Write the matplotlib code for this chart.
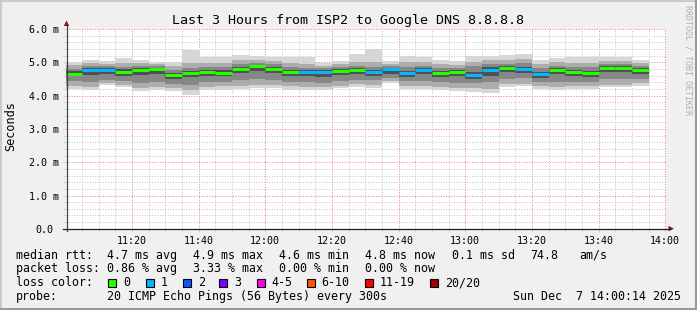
import matplotlib
matplotlib.use('Agg')
import matplotlib.pyplot as plt
import matplotlib.transforms as mtransforms
import numpy as np
from matplotlib.lines import Line2D
from matplotlib.patches import Polygon, Rectangle

W, H = 697, 310

# one rrd step = 5 minutes, x in minutes after 11:00
step_minutes = 5
x_labels = ['11:20', '11:40', '12:00', '12:20', '12:40', '13:00', '13:20', '13:40', '14:00']
y_labels = ['0.0', '1.0 m', '2.0 m', '3.0 m', '4.0 m', '5.0 m', '6.0 m']

# rtt of the 20 pings per step, in ms (median + smoke quantiles)
rtt_median = [4.66, 4.76, 4.76, 4.72, 4.78, 4.79, 4.61, 4.67, 4.72, 4.69, 4.81, 4.88,
              4.81, 4.70, 4.70, 4.70, 4.73, 4.76, 4.72, 4.79, 4.67, 4.76, 4.67, 4.70,
              4.61, 4.76, 4.82, 4.79, 4.64, 4.76, 4.70, 4.67, 4.82, 4.82, 4.76]
rtt_min = [4.20, 4.16, 4.31, 4.25, 4.13, 4.18, 4.15, 4.03, 4.16, 4.18, 4.21, 4.22,
           4.23, 4.18, 4.16, 4.16, 4.23, 4.26, 4.23, 4.38, 4.21, 4.20, 4.16, 4.13,
           4.11, 4.08, 4.26, 4.28, 4.20, 4.16, 4.20, 4.20, 4.25, 4.25, 4.30]
rtt_q10 = [4.28, 4.25, 4.38, 4.33, 4.22, 4.27, 4.24, 4.16, 4.26, 4.28, 4.30, 4.32,
           4.32, 4.28, 4.26, 4.25, 4.30, 4.34, 4.32, 4.44, 4.30, 4.29, 4.25, 4.22,
           4.22, 4.20, 4.34, 4.36, 4.28, 4.25, 4.28, 4.28, 4.33, 4.33, 4.37]
rtt_q25 = [4.43, 4.40, 4.48, 4.45, 4.38, 4.42, 4.36, 4.33, 4.40, 4.42, 4.46, 4.50,
           4.48, 4.42, 4.42, 4.38, 4.44, 4.48, 4.46, 4.52, 4.44, 4.45, 4.40, 4.38,
           4.38, 4.40, 4.50, 4.52, 4.42, 4.42, 4.42, 4.42, 4.50, 4.50, 4.50]
rtt_q40 = [4.58, 4.62, 4.64, 4.60, 4.62, 4.65, 4.50, 4.55, 4.60, 4.58, 4.68, 4.74,
           4.68, 4.58, 4.58, 4.56, 4.62, 4.64, 4.60, 4.66, 4.56, 4.64, 4.56, 4.58,
           4.50, 4.60, 4.70, 4.68, 4.54, 4.64, 4.58, 4.56, 4.70, 4.70, 4.65]
rtt_q60 = [4.73, 4.82, 4.82, 4.79, 4.84, 4.83, 4.68, 4.73, 4.78, 4.76, 4.87, 4.93,
           4.87, 4.77, 4.76, 4.76, 4.79, 4.82, 4.78, 4.84, 4.75, 4.82, 4.74, 4.76,
           4.72, 4.86, 4.88, 4.87, 4.72, 4.82, 4.77, 4.75, 4.88, 4.88, 4.82]
rtt_q75 = [4.81, 4.90, 4.88, 4.86, 4.90, 4.88, 4.76, 4.82, 4.86, 4.85, 4.95, 4.99,
           4.94, 4.85, 4.84, 4.83, 4.86, 4.90, 4.87, 4.90, 4.86, 4.90, 4.83, 4.83,
           4.88, 4.96, 4.96, 4.98, 4.84, 4.90, 4.86, 4.85, 4.95, 4.95, 4.90]
rtt_q90 = [4.91, 4.98, 4.95, 4.97, 4.98, 4.95, 4.88, 4.98, 4.98, 4.98, 5.06, 5.08,
           5.04, 4.97, 4.96, 4.90, 4.94, 5.02, 5.02, 4.96, 5.00, 5.00, 4.94, 4.92,
           5.02, 5.06, 5.06, 5.10, 4.96, 5.00, 4.98, 4.98, 5.05, 5.04, 4.98]
rtt_max = [5.01, 5.08, 5.03, 5.13, 5.08, 5.01, 5.01, 5.36, 5.17, 5.15, 5.23, 5.20,
           5.17, 5.17, 5.17, 4.98, 5.03, 5.26, 5.40, 5.03, 5.20, 5.16, 5.08, 5.03,
           5.18, 5.20, 5.23, 5.26, 5.08, 5.13, 5.15, 5.16, 5.16, 5.15, 5.08]
lost_pings = [0, 1, 1, 0, 0, 0, 0, 0, 0, 0, 0, 0,
              0, 0, 1, 1, 0, 0, 1, 1, 1, 1, 0, 0,
              1, 1, 0, 1, 1, 0, 0, 0, 0, 0, 0]

loss_names = ['0', '1', '2', '3', '4-5', '6-10', '11-19', '20/20']
loss_colors = ['#26ff00', '#00b8ff', '#0059ff', '#7e00ff', '#ff00ee', '#ff5500', '#ff0000', '#a10000']


def px(x, y):
    # pixel position (from top left) -> figure fraction
    return x / W, 1 - y / H


plt.rcParams['font.family'] = ['DejaVu Sans Mono']

fig = plt.figure(figsize=(W / 100, H / 100), dpi=100, facecolor='#f0f0f0')

# frame of the rrd image
fig.add_artist(Rectangle((0, 0), 1, 1, transform=fig.transFigure, fill=False,
                         edgecolor='#cbcbcb', lw=2.2))
fig.add_artist(Line2D([1 - 1.5 / W, 1 - 1.5 / W], [0, 1], transform=fig.transFigure, color='#999999', lw=2.2))
fig.add_artist(Line2D([0, 1], [1.5 / H, 1.5 / H], transform=fig.transFigure, color='#999999', lw=2.2))

ax = fig.add_axes([66 / W, (H - 228.8) / H, 600 / W, 199.8 / H])
ax.set_facecolor('white')
t0 = 14 / 60  # graph starts at 11:00:14
ax.set_xlim(t0, 180 + t0)
ax.set_ylim(0, 6)

# smoke
x_start = np.arange(len(rtt_median)) * step_minutes
smoke = [(rtt_min, rtt_max, '#d6d6d6'),
         (rtt_q10, rtt_q90, '#adadad'),
         (rtt_q25, rtt_q75, '#878787'),
         (rtt_q40, rtt_q60, '#505050')]
for lo, hi, c in smoke:
    lo = np.array(lo)
    hi = np.array(hi)
    ax.bar(x_start, hi - lo, bottom=lo, width=step_minutes, align='edge',
           color=c, linewidth=0, antialiased=False, zorder=2)

# median, coloured by packet loss
for xs, m, n in zip(x_start, rtt_median, lost_pings):
    ax.hlines(m, max(xs, t0), xs + step_minutes, color=loss_colors[n], lw=2.2, zorder=4)

# grid
x_ticks = [(int(s[:2]) - 11) * 60 + int(s[3:]) for s in x_labels]
ax.set_xticks(x_ticks)
ax.set_xticklabels(x_labels)
ax.set_xticks(np.arange(5, 181, 5), minor=True)
ax.set_yticks(range(len(y_labels)))
ax.set_yticklabels(y_labels)
ax.set_yticks(np.arange(0, 6.01, 0.2), minor=True)

ax.grid(which='minor', color='#c4c4c4', lw=0.72, linestyle=(0, (1, 1.6)), zorder=1)
ax.grid(which='major', color='#f08080', lw=0.72, linestyle=(0, (1, 1.6)), zorder=1)
ax.set_axisbelow(True)
for s in ax.spines.values():
    s.set_visible(False)
ax.tick_params(which='both', length=2, width=0.72, color='#d0d0d0', labelsize=7.2,
               labelcolor='#000000')
ax.tick_params(axis='y', which='major', pad=3.2)
ax.tick_params(axis='x', which='major', pad=3.0)
# "0.0" has no unit, rrdtool leaves it a little further left
lab0 = ax.get_yticklabels()[0]
lab0.set_transform(lab0.get_transform() + mtransforms.ScaledTranslation(-5 / 100, 0, fig.dpi_scale_trans))

# axes with arrows
fig.add_artist(Line2D(*zip(px(66.5, 231), px(66.5, 24)), transform=fig.transFigure, color='#404040', lw=0.9))
fig.add_artist(Line2D(*zip(px(63, 228.6), px(670, 228.6)), transform=fig.transFigure, color='#202020', lw=0.9))
fig.add_artist(Polygon([px(66.5, 20.5), px(63.8, 26), px(69.2, 26)], closed=True,
                       transform=fig.transFigure, color='#8b1010', lw=0))
fig.add_artist(Polygon([px(674, 228.6), px(668.5, 225.9), px(668.5, 231.3)], closed=True,
                       transform=fig.transFigure, color='#8b1010', lw=0))

# texts
fig.text(*px(348, 24), 'Last 3 Hours from ISP2 to Google DNS 8.8.8.8', ha='center', va='baseline', fontsize=9.6)
fig.text(*px(11, 126), 'Seconds', rotation=90, ha='center', va='center', fontsize=8.6)
fig.text(*px(688, 60), 'RRDTOOL / TOBI OETIKER', rotation=270, ha='center', va='center',
         fontsize=6, color='#b0b0b0')

fs = 8.4
rows = [
    (258.6, [(16, 'median rtt:'), (107.3, '4.7 ms avg'), (192.7, '4.9 ms max'), (279.3, '4.6 ms min'),
             (365, '4.8 ms now'), (451.7, '0.1 ms sd'), (530, '74.8'), (579.3, 'am/s')]),
    (272.4, [(16, 'packet loss:'), (107.3, '0.86 % avg'), (192.7, '3.33 % max'),
             (279.3, '0.00 % min'), (365, '0.00 % now')]),
    (286.3, [(16, 'loss color:')]),
    (300.1, [(16, 'probe:'), (107.3, '20 ICMP Echo Pings (56 Bytes) every 300s'),
             (513.3, 'Sun Dec  7 14:00:14 2025')]),
]
for yb, items in rows:
    for xl, s in items:
        fig.text(*px(xl, yb), s, ha='left', va='baseline', fontsize=fs)

box_x = [108.3, 145.7, 182.7, 219.3, 256.7, 306.7, 365, 430]
for bx, name, c in zip(box_x, loss_names, loss_colors):
    x0, y0 = px(bx, 287)
    fig.add_artist(Rectangle((x0, y0), 8 / W, 8 / H, transform=fig.transFigure,
                             facecolor=c, edgecolor='black', lw=0.8))
    fig.text(*px(bx + 15, 286.3), name, ha='left', va='baseline', fontsize=fs)

fig.savefig('out.png', dpi=100, facecolor=fig.get_facecolor())
